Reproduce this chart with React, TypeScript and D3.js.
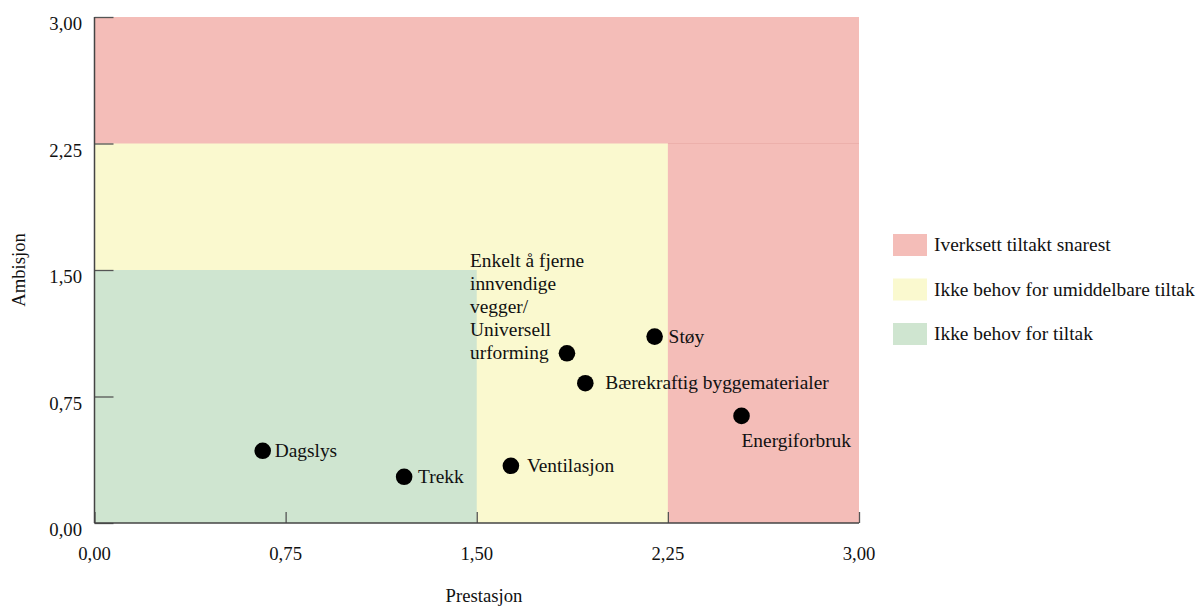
import React, { useEffect, useRef } from 'react';
import * as d3 from 'd3';

const labels = [
  'Dagslys',
  'Trekk',
  'Ventilasjon',
  'Enkelt å fjerne|innvendige|vegger/|Universell|urforming',
  'Støy',
  'Bærekraftig byggematerialer',
  'Energiforbruk',
];
const prestasjon = [0.66, 1.215, 1.634, 1.854, 2.198, 1.926, 2.539];
const ambisjon = [0.428, 0.274, 0.339, 1.006, 1.105, 0.829, 0.635];
// where each label sits relative to its point
const labelPos = ['right', 'right', 'right', 'left', 'right', 'right', 'below'];
const labelGap = [12, 14, 16, 0, 14, 20, 0];

const ticks = [0, 0.75, 1.5, 2.25, 3];
const zoneNames = ['Iverksett tiltakt snarest', 'Ikke behov for umiddelbare tiltak', 'Ikke behov for tiltak'];
const zoneColors = ['#f4bdb8', '#faf9cf', '#cfe5d0'];

const FONT = 'Liberation Serif, DejaVu Serif, serif';

export default function App() {
  const svgRef = useRef<SVGSVGElement>(null);

  useEffect(() => {
    if (!svgRef.current) return;
    const svg = d3.select(svgRef.current);
    svg.selectAll('*').remove();

    const width = 1198;
    const height = 606;
    const margin = { top: 17, left: 94.5, right: 339, bottom: 83 };

    const x = d3.scaleLinear().domain([0, 3]).range([margin.left, width - margin.right]);
    const y = d3.scaleLinear().domain([0, 3]).range([height - margin.bottom, margin.top]);

    const g = svg.append('g').attr('font-family', FONT);

    // Zones
    g.append('rect')
      .attr('x', x(0)).attr('y', y(3))
      .attr('width', x(3) - x(0)).attr('height', y(0) - y(3))
      .attr('fill', zoneColors[0]);
    g.append('line')
      .attr('x1', x(2.25)).attr('x2', x(3))
      .attr('y1', y(2.25)).attr('y2', y(2.25))
      .attr('stroke', '#ecb0ab').attr('stroke-width', 1);
    g.append('rect')
      .attr('x', x(0)).attr('y', y(2.25))
      .attr('width', x(2.25) - x(0)).attr('height', y(0) - y(2.25))
      .attr('fill', zoneColors[1]);
    g.append('rect')
      .attr('x', x(0)).attr('y', y(1.5))
      .attr('width', x(1.5) - x(0)).attr('height', y(0) - y(1.5))
      .attr('fill', zoneColors[2]);

    // Y axis
    const yAxis = g.append('g').attr('transform', `translate(${x(0)},0)`)
      .call(d3.axisRight(y).tickValues(ticks).tickSize(19).tickFormat(() => ''));
    yAxis.select('.domain').remove();
    yAxis.selectAll('line').attr('stroke', '#555').attr('stroke-width', 1.3);
    g.selectAll('.ylab').data(ticks).enter().append('text')
      .attr('x', 82).attr('y', d => y(d) + 13)
      .attr('text-anchor', 'end')
      .attr('font-size', 18.7)
      .attr('fill', '#111')
      .text(d => d3.format('.2f')(d).replace('.', ','));

    // X axis
    const xAxis = g.append('g').attr('transform', `translate(0,${y(0)})`)
      .call(d3.axisTop(x).tickValues(ticks).tickSize(11).tickFormat(() => ''));
    xAxis.select('.domain').remove();
    xAxis.selectAll('line').attr('stroke', '#555').attr('stroke-width', 1.3);
    g.selectAll('.xlab').data(ticks).enter().append('text')
      .attr('x', d => x(d)).attr('y', 560)
      .attr('text-anchor', 'middle')
      .attr('font-size', 18.7)
      .attr('fill', '#111')
      .text(d => d3.format('.2f')(d).replace('.', ','));

    // Axis lines
    g.append('line')
      .attr('x1', x(0)).attr('x2', x(0)).attr('y1', y(3)).attr('y2', y(0))
      .attr('stroke', '#444').attr('stroke-width', 1.5);
    g.append('line')
      .attr('x1', x(0)).attr('x2', x(3)).attr('y1', y(0)).attr('y2', y(0))
      .attr('stroke', '#444').attr('stroke-width', 1.5);

    // Axis titles
    g.append('text')
      .attr('transform', `translate(25,${(y(0) + y(3)) / 2}) rotate(-90)`)
      .attr('text-anchor', 'middle')
      .attr('font-size', 18.7)
      .attr('fill', '#111')
      .text('Ambisjon');
    g.append('text')
      .attr('x', 484).attr('y', 602)
      .attr('text-anchor', 'middle')
      .attr('font-size', 18.7)
      .attr('fill', '#111')
      .text('Prestasjon');

    // Points
    const idx = d3.range(labels.length);
    g.selectAll('.pt').data(idx).enter().append('circle')
      .attr('cx', i => x(prestasjon[i]))
      .attr('cy', i => y(ambisjon[i]))
      .attr('r', 8.3)
      .attr('fill', '#000');

    const fs = 19.4;
    idx.forEach(i => {
      const px = x(prestasjon[i]);
      const py = y(ambisjon[i]);
      const pos = labelPos[i];
      const lines = labels[i].split('|');
      if (pos === 'left') {
        const t = g.append('text')
          .attr('font-size', fs).attr('fill', '#111');
        const lh = 23;
        lines.forEach((l, k) => {
          t.append('tspan')
            .attr('x', 470)
            .attr('y', py + 6 - (lines.length - 1 - k) * lh)
            .text(l);
        });
      } else if (pos === 'below') {
        g.append('text')
          .attr('x', px).attr('y', py + 31)
          .attr('font-size', fs).attr('fill', '#111')
          .text(lines[0]);
      } else {
        g.append('text')
          .attr('x', px + labelGap[i]).attr('y', py + 6)
          .attr('font-size', fs).attr('fill', '#111')
          .text(lines[0]);
      }
    });

    // Legend
    const legend = g.append('g');
    zoneNames.forEach((name, i) => {
      const ly = 234 + i * 44.5;
      legend.append('rect')
        .attr('x', 893).attr('y', ly)
        .attr('width', 34).attr('height', 22)
        .attr('fill', zoneColors[i]);
      legend.append('text')
        .attr('x', 934).attr('y', ly + 17)
        .attr('font-size', fs).attr('fill', '#111')
        .text(name);
    });
  }, []);

  return (
    <svg
      ref={svgRef}
      width={1198}
      height={606}
      style={{ position: 'absolute', left: 0, top: 0, background: '#fff' }}
    />
  );
}
